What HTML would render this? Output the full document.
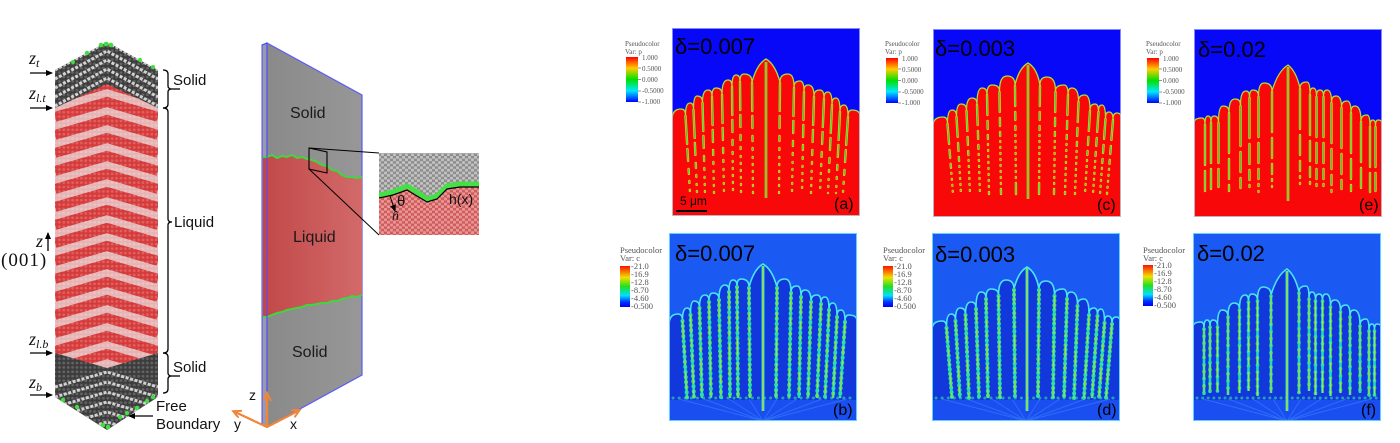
<!DOCTYPE html>
<html><head><meta charset="utf-8">
<style>
html,body{margin:0;padding:0;background:#fff;}
svg{display:block;}
text{font-family:"Liberation Sans",sans-serif;}
.ser{font-family:"Liberation Serif",serif;}
.lg{font-family:"Liberation Serif",serif;fill:#555;}
</style></head><body>
<svg width="1400" height="443" viewBox="0 0 1400 443" xmlns="http://www.w3.org/2000/svg">
<defs>
 <linearGradient id="cb" x1="0" y1="0" x2="0" y2="1">
  <stop offset="0" stop-color="#ff0000"/><stop offset="0.25" stop-color="#ffcc00"/><stop offset="0.5" stop-color="#00e000"/><stop offset="0.75" stop-color="#00e8ff"/><stop offset="1" stop-color="#0000ff"/>
 </linearGradient>
 <linearGradient id="cb2" x1="0" y1="0" x2="0" y2="1">
  <stop offset="0" stop-color="#ff1000"/><stop offset="0.28" stop-color="#f0e000"/><stop offset="0.5" stop-color="#20e020"/><stop offset="0.72" stop-color="#00e0ff"/><stop offset="0.88" stop-color="#0030ff"/><stop offset="1" stop-color="#0000f0"/>
 </linearGradient>
 <linearGradient id="redg" x1="0" y1="0" x2="1" y2="0">
  <stop offset="0" stop-color="#c24848"/><stop offset="1" stop-color="#d26a6a"/>
 </linearGradient>
 <linearGradient id="grayg" x1="0" y1="0" x2="1" y2="0">
  <stop offset="0" stop-color="#8a8a8a"/><stop offset="1" stop-color="#979797"/>
 </linearGradient>
 <pattern id="speck" width="4.4" height="4.4" patternUnits="userSpaceOnUse"><circle cx="2.2" cy="2.2" r="1.4" fill="#fff" opacity="0.2"/></pattern>
 <pattern id="atG" width="6" height="5.2" patternUnits="userSpaceOnUse"><rect width="6" height="5.2" fill="#8c8c8c"/><circle cx="1.5" cy="1.3" r="1.6" fill="#c2c2c2"/><circle cx="4.5" cy="3.9" r="1.6" fill="#c2c2c2"/></pattern>
 <pattern id="atR" width="6" height="5.2" patternUnits="userSpaceOnUse"><rect width="6" height="5.2" fill="#cf5a5a"/><circle cx="1.5" cy="1.3" r="1.6" fill="#e99696"/><circle cx="4.5" cy="3.9" r="1.6" fill="#e99696"/></pattern>
 <clipPath id="colClip"><polygon points="55,70 107,42 158,70 158,397 107,430 55,397"/></clipPath>
 <clipPath id="insClip"><rect x="379" y="153" width="100" height="82"/></clipPath>
 <marker id="ab" markerWidth="9" markerHeight="8" refX="6" refY="3" orient="auto" markerUnits="userSpaceOnUse"><path d="M0,0L7,3L0,6z" fill="#000"/></marker>
 <marker id="ao" markerWidth="10" markerHeight="10" refX="6" refY="4" orient="auto" markerUnits="userSpaceOnUse"><path d="M0,0L8,4L0,8" fill="none" stroke="#f0863a" stroke-width="2"/></marker>

 <path id="pA" d="M0,188L0,92Q0,81 9,81Q13.5,81 13.5,87Q13.5,75 18,75Q21.5,75 21.5,81Q21.5,68 25,68Q30.5,68 30.5,74Q30.5,62 36,62Q40,62 40,68Q40,60 44,60Q50,60 50,66Q50,52 56,52Q60,52 60,58Q60,47 64,47Q68,47 68,53Q68,46 72,46Q80,46 80,54Q85,36 94,31Q103,36 108,54Q108,46 116,46Q122,46 122,59Q122,53 128,53Q132,53 132,63Q132,57 136,57Q142,57 142,68Q142,62 148,62Q152,62 152,70Q152,64 156,64Q160,64 160,76Q160,70 164,70Q168,70 168,83Q168,77 172,77Q176,77 176,88Q176,82 180,82Q188,82 188,88L188,188Z"/>
 <path id="pC" d="M0,188L0,97Q0,88 10,88Q14.5,88 14.5,94Q14.5,81 19,81Q23.5,81 23.5,87Q23.5,75 28,75Q33.5,75 33.5,81Q33.5,69 39,69Q44,69 44,75Q44,59 49,59Q54,59 54,65Q54,56 59,56Q66.5,56 66.5,62Q66.5,47 74,47Q82,47 82,56Q86,39 95,34Q104,39 107,56Q107,48 114,48Q122.5,48 122.5,62Q122.5,56 131,56Q135,56 135,65Q135,59 139,59Q145.5,59 145.5,72Q145.5,66 152,66Q157,66 157,81Q157,75 162,75Q165.5,75 165.5,82Q165.5,76 169,76Q172.5,76 172.5,89Q172.5,83 176,83Q180,83 180,90Q180,84 184,84Q188,84 188,88L188,188Z"/>
 <path id="pE" d="M0,188L0,94Q0,89 8,89Q11,89 11,95Q11,87 14,87Q17,87 17,93Q17,87 20,87Q24.5,87 24.5,93Q24.5,77 29,77Q35,77 35,83Q35,70 41,70Q46.5,70 46.5,76Q46.5,62 52,62Q55.5,62 55.5,68Q55.5,61 59,61Q64.5,61 64.5,67Q64.5,54 70,54Q78,54 78,62Q84,42 94,36Q102,42 106,59Q106,53 113,53Q116,53 116,65Q116,59 119,59Q122.5,59 122.5,67Q122.5,61 126,61Q129.5,61 129.5,67Q129.5,61 133,61Q137.5,61 137.5,73Q137.5,67 142,67Q147.5,67 147.5,78Q147.5,72 153,72Q157,72 157,83Q157,77 161,77Q167,77 167,92Q167,86 173,86Q176,86 176,97Q176,91 179,91Q181.5,91 181.5,97Q181.5,91 184,91Q188,91 188,94L188,188Z"/>
 <path id="sA" d="M13.5,88L18,165M21.5,82L25,165M30.5,75L33,165M40,69L42,165M50,67L52,165M60,59L61,165M68,54L69,165M80,55L81,165M108,55L107,165M122,60L120,165M132,64L130,165M142,69L139,165M152,71L148,165M160,77L156,165M168,84L164,165M176,89L171,165"/>
 <path id="sC" d="M14.5,95L20,165M23.5,88L28,165M33.5,82L37,165M44,76L47,165M54,66L56,165M66.5,63L68,165M82,57L83,165M107,57L106,165M122.5,63L121,165M135,66L132,165M145.5,73L142,165M157,82L152,165M165.5,83L160,165M172.5,90L167,165M180,91L174,165"/>
 <path id="sE" d="M11,96V162M17,94V160M24.5,94V158M35,84V162M46.5,77V160M55.5,69V158M64.5,68V163M78,63V160M106,60V160M116,66V158M122.5,68V162M129.5,68V160M137.5,74V163M147.5,79V160M157,84V162M167,93V160M176,98V163M181.5,98V162"/>
 <path id="fan" d="M94,188L10,166M94,188L35,166M94,188L60,166M94,188L80,166M94,188L108,166M94,188L128,166M94,188L153,166M94,188L178,166"/>
</defs>

<!-- ================= LEFT: atom column ================= -->
<g clip-path="url(#colClip)">
 <rect x="50" y="40" width="115" height="395" fill="#e6b4b4"/>
 <g fill="none" stroke="#d63a3a" stroke-width="10">
  <polyline points="55,99 107,84 158,99"/><polyline points="55,117 107,102 158,117"/>
  <polyline points="55,135 107,120 158,135"/><polyline points="55,153 107,138 158,153"/>
  <polyline points="55,171 107,156 158,171"/><polyline points="55,189 107,174 158,189"/>
  <polyline points="55,207 107,192 158,207"/><polyline points="55,225 107,210 158,225"/>
  <polyline points="55,243 107,228 158,243"/><polyline points="55,261 107,246 158,261"/>
  <polyline points="55,279 107,264 158,279"/><polyline points="55,297 107,282 158,297"/>
  <polyline points="55,315 107,300 158,315"/><polyline points="55,333 107,318 158,333"/>
  <polyline points="55,351 107,336 158,351"/><polyline points="55,369 107,354 158,369"/>
 </g>
 <polygon points="55,40 158,40 158,108 107,84 55,108" fill="#3c3c3c"/>
 <g fill="none" stroke="#cfcfcf" stroke-width="3" stroke-dasharray="3 1.6">
  <polyline points="55,70 107,42 158,70"/><polyline points="55,79 107,51 158,79"/>
  <polyline points="55,88 107,60 158,88"/><polyline points="55,97 107,69 158,97"/>
  <polyline points="55,106 107,78 158,106"/>
 </g>
 <polygon points="55,353 107,368 158,353 158,440 55,440" fill="#3c3c3c"/>
 <g fill="none" stroke="#cfcfcf" stroke-width="3" stroke-dasharray="3 1.6">
  <polyline points="55,387 107,372 158,387"/><polyline points="55,397 107,382 158,397"/>
  <polyline points="55,407 107,392 158,407"/><polyline points="55,417 107,402 158,417"/>
  <polyline points="55,427 107,412 158,427"/><polyline points="55,437 107,422 158,437"/>
 </g>
 <rect x="50" y="40" width="115" height="395" fill="url(#speck)"/>
</g>
<g fill="#3ee03e">
 <circle cx="101" cy="45" r="2.3"/><circle cx="106" cy="44" r="2.3"/><circle cx="111" cy="45" r="2.3"/>
 <circle cx="87" cy="53" r="2.2"/><circle cx="73" cy="62" r="2"/><circle cx="140" cy="60" r="2"/><circle cx="153" cy="67" r="2"/>
 <circle cx="63" cy="400" r="2.2"/><circle cx="77" cy="407" r="2.2"/><circle cx="103" cy="425" r="2.3"/><circle cx="108" cy="427" r="2.3"/>
 <circle cx="120" cy="417" r="2.2"/><circle cx="127" cy="413" r="2.2"/><circle cx="137" cy="408" r="2.2"/><circle cx="147" cy="401" r="2.2"/><circle cx="153" cy="397" r="2.2"/>
</g>

<!-- left labels & arrows -->
<g stroke="#000" stroke-width="1.3" fill="none">
 <line x1="30" y1="73" x2="52" y2="73" marker-end="url(#ab)"/>
 <line x1="30" y1="108" x2="52" y2="108" marker-end="url(#ab)"/>
 <line x1="30" y1="353" x2="52" y2="353" marker-end="url(#ab)"/>
 <line x1="30" y1="395" x2="52" y2="395" marker-end="url(#ab)"/>
 <line x1="48" y1="251" x2="48" y2="233" marker-end="url(#ab)"/>
 <line x1="153" y1="416" x2="129" y2="416" marker-end="url(#ab)"/>
 <path d="M163,70Q168,70 168,74L168,86Q168,89 172,89Q168,89 168,92L168,104Q168,108 163,108"/>
 <line x1="172" y1="89" x2="180" y2="89"/>
 <path d="M163,108Q168,108 168,112L168,219Q168,222 172,222Q168,222 168,225L168,349Q168,353 163,353"/>
 <path d="M163,353Q168,353 168,357L168,373Q168,376 172,376Q168,376 168,379L168,389Q168,393 163,393"/>
 <line x1="172" y1="376" x2="180" y2="376"/>
</g>
<g fill="#111">
 <text x="29" y="64" font-size="18" class="ser" font-style="italic">z<tspan font-size="12" dy="3">t</tspan></text>
 <text x="29" y="99" font-size="18" class="ser" font-style="italic">z<tspan font-size="12" dy="3">l.t</tspan></text>
 <text x="36" y="247" font-size="18" class="ser" font-style="italic">z</text>
 <text x="29" y="345" font-size="18" class="ser" font-style="italic">z<tspan font-size="12" dy="3">l.b</tspan></text>
 <text x="29" y="388" font-size="18" class="ser" font-style="italic">z<tspan font-size="12" dy="3">b</tspan></text>
</g>
<text x="1" y="266" font-size="19" class="ser" letter-spacing="1" fill="#111">(001)</text>
<text x="173" y="85" font-size="15" fill="#111">Solid</text>
<text x="174" y="227" font-size="15" fill="#111">Liquid</text>
<text x="173" y="372" font-size="15" fill="#111">Solid</text>
<text x="156" y="411" font-size="15" fill="#111">Free</text>
<text x="156" y="429" font-size="15" fill="#111">Boundary</text>

<!-- ================= MIDDLE: slab ================= -->
<polygon points="262,45 267,43 267,427 262,425" fill="#9a9aa8" stroke="#4a4aff" stroke-width="1"/>
<polygon points="267,43 362,95 362,375 267,427" fill="url(#grayg)" stroke="#5a5aff" stroke-width="1.2"/>
<path d="M263,157L267,157 272,155 277,158 282,156 287,157 292,155 297,158 302,157 307,159 312,160 317,162 322,165 327,166 332,170 337,171 342,175 347,177 352,177 357,178 362,177L362,295 357,297 352,296 347,298 342,299 337,301 332,301 327,303 322,303 317,304 312,305 307,305 302,307 297,308 292,309 287,310 282,312 277,313 272,315 267,317 263,317Z" fill="url(#redg)"/>
<g fill="none" stroke="#3ed83e" stroke-width="2">
 <polyline points="263,157 267,157 272,155 277,158 282,156 287,157 292,155 297,158 302,157 307,159 312,160 317,162 322,165 327,166 332,170 337,171 342,175 347,177 352,177 357,178 362,177"/>
 <polyline points="362,295 357,297 352,296 347,298 342,299 337,301 332,301 327,303 322,303 317,304 312,305 307,305 302,307 297,308 292,309 287,310 282,312 277,313 272,315 267,317 263,317"/>
</g>
<polygon points="262,45 267,43 267,427 262,425" fill="none" stroke="#4a4aff" stroke-width="1"/>
<text x="290" y="118" font-size="16" fill="#1a1a1a">Solid</text>
<text x="293" y="242" font-size="16" fill="#1a1a1a">Liquid</text>
<text x="292" y="357" font-size="16" fill="#1a1a1a">Solid</text>
<polygon points="309,148 327,152 327,173 309,169" fill="none" stroke="#000" stroke-width="1.1"/>
<line x1="309" y1="148" x2="379" y2="153" stroke="#000" stroke-width="1"/>
<line x1="309" y1="169" x2="379" y2="235" stroke="#000" stroke-width="1"/>
<g clip-path="url(#insClip)">
 <rect x="379" y="153" width="100" height="82" fill="url(#atR)"/>
 <path d="M379,153H479V184L460,184 447,186 437,196 427,199 417,192 407,186 393,192 379,195Z" fill="url(#atG)"/>
 <polyline points="379,195 393,192 407,186 417,192 427,199 437,196 447,186 460,184 479,184" fill="none" stroke="#44e044" stroke-width="5"/>
 <polyline points="379,198 393,195 407,190 417,196 427,202 437,199 447,189 460,187 479,187" fill="none" stroke="#000" stroke-width="1.2"/>
</g>
<line x1="390" y1="196" x2="395" y2="211" stroke="#000" stroke-width="1" marker-end="url(#ab)"/>
<text x="397" y="206" font-size="15" fill="#111">θ</text>
<text x="392" y="220" font-size="14" class="ser" font-style="italic" fill="#111">n̂</text>
<text x="449" y="204" font-size="14" fill="#111">h(x)</text>
<g stroke="#f0863a" stroke-width="2.2" fill="none">
 <line x1="267" y1="427" x2="267" y2="395" marker-end="url(#ao)"/>
 <line x1="267" y1="427" x2="298" y2="411" marker-end="url(#ao)"/>
 <line x1="267" y1="427" x2="235" y2="412" marker-end="url(#ao)"/>
</g>
<text x="249" y="400" font-size="14" fill="#111">z</text>
<text x="234" y="429" font-size="14" fill="#111">y</text>
<text x="290" y="429" font-size="14" fill="#111">x</text>

<!-- ================= TOP ROW (p) ================= -->
<svg x="672" y="28" width="188" height="188" viewBox="0 0 188 188">
 <rect width="188" height="188" fill="#0808f8"/>
 <use href="#pA" fill="#f80808" stroke="#a8e038" stroke-width="1.3"/>
 <use href="#sA" fill="none" stroke="#f0d010" stroke-width="2.4" stroke-linecap="round" stroke-dasharray="28 5 12 8 5 7 2 7 1 6 1 6 1 6 1 6 1 6 1 6"/>
 <use href="#sA" fill="none" stroke="#30d050" stroke-width="1.1" stroke-linecap="round" stroke-dasharray="28 5 12 8 5 7 2 7 1 6 1 6 1 6 1 6 1 6 1 6"/>
 <path d="M94,34V170" stroke="#f0d010" stroke-width="2.6"/><path d="M94,34V170" stroke="#30d050" stroke-width="1.2"/>
 <line x1="4" y1="183" x2="35" y2="183" stroke="#000" stroke-width="2"/>
 <text x="8" y="177" font-size="12" fill="#000">5 μm</text>
 <text x="3" y="26" font-size="22" fill="#000">δ=0.007</text>
 <text x="162" y="181" font-size="16" fill="#000">(a)</text>
 <rect x="0.5" y="0.5" width="187" height="187" fill="none" stroke="#b8c0ff" stroke-width="1" opacity="0.7"/>
</svg>
<svg x="933" y="29" width="188" height="188" viewBox="0 0 188 188">
 <rect width="188" height="188" fill="#0808f8"/>
 <use href="#pC" fill="#f80808" stroke="#a8e038" stroke-width="1.3"/>
 <use href="#sC" fill="none" stroke="#f0d010" stroke-width="2.4" stroke-linecap="round" stroke-dasharray="20 6 8 6 4 5 1 5 1 5 1 5 1 5 1 5 1 5 1 5 1 5"/>
 <use href="#sC" fill="none" stroke="#30d050" stroke-width="1.1" stroke-linecap="round" stroke-dasharray="20 6 8 6 4 5 1 5 1 5 1 5 1 5 1 5 1 5 1 5 1 5"/>
 <path d="M95,36V170" stroke="#f0d010" stroke-width="2.6"/><path d="M95,36V170" stroke="#30d050" stroke-width="1.2"/>
 <text x="2" y="27" font-size="22" fill="#000">δ=0.003</text>
 <text x="164" y="181" font-size="16" fill="#000">(c)</text>
 <rect x="0.5" y="0.5" width="187" height="187" fill="none" stroke="#b8c0ff" stroke-width="1" opacity="0.7"/>
</svg>
<svg x="1194" y="29" width="188" height="188" viewBox="0 0 188 188">
 <rect width="188" height="188" fill="#0808f8"/>
 <use href="#pE" fill="#f80808" stroke="#a8e038" stroke-width="1.3"/>
 <use href="#sE" fill="none" stroke="#f0d010" stroke-width="2.4" stroke-linecap="round" stroke-dasharray="40 6 20 6 10 5 2 5 1 5 1 5"/>
 <use href="#sE" fill="none" stroke="#30d050" stroke-width="1.1" stroke-linecap="round" stroke-dasharray="40 6 20 6 10 5 2 5 1 5 1 5"/>
 <path d="M94,38V172" stroke="#f0d010" stroke-width="2.6"/><path d="M94,38V172" stroke="#30d050" stroke-width="1.2"/>
 <text x="4" y="28" font-size="22" fill="#000">δ=0.02</text>
 <text x="165" y="181" font-size="16" fill="#000">(e)</text>
 <rect x="0.5" y="0.5" width="187" height="187" fill="none" stroke="#b8c0ff" stroke-width="1" opacity="0.7"/>
</svg>

<!-- ================= BOTTOM ROW (c) ================= -->
<svg x="669" y="233" width="188" height="188" viewBox="0 0 188 188">
 <rect width="188" height="188" fill="#1b5af2"/>
 <use href="#pA" fill="#1238dc" stroke="#4ae6f0" stroke-width="1.6"/>
 <rect x="1" y="167" width="186" height="20" fill="#1a4ef0"/>
 <use href="#fan" stroke="#3a80fa" stroke-width="1" opacity="0.6"/>
 <use href="#sA" fill="none" stroke="#1ed8c8" stroke-width="2.6"/>
 <use href="#sA" fill="none" stroke="#30e0a0" stroke-width="4" stroke-linecap="round" stroke-dasharray="0.1 5"/>
 <use href="#sA" fill="none" stroke="#b4e028" stroke-width="1" stroke-dasharray="18 6 9 5 6 7"/>
 <path d="M4,165H184" stroke="#30e0a0" stroke-width="3" stroke-linecap="round" stroke-dasharray="0.1 6" opacity="0.6"/>
 <path d="M94,33V178" stroke="#1ed8c8" stroke-width="3"/><path d="M94,33V178" stroke="#c8e030" stroke-width="1.2"/>
 <text x="6" y="28" font-size="22" fill="#000">δ=0.007</text>
 <text x="164" y="182" font-size="16" fill="#000">(b)</text>
 <rect x="0.5" y="0.5" width="187" height="187" fill="none" stroke="#60d0ff" stroke-width="1"/>
</svg>
<svg x="932" y="233" width="188" height="188" viewBox="0 0 188 188">
 <rect width="188" height="188" fill="#1b5af2"/>
 <use href="#pC" fill="#1238dc" stroke="#4ae6f0" stroke-width="1.6"/>
 <rect x="1" y="167" width="186" height="20" fill="#1a4ef0"/>
 <use href="#fan" stroke="#3a80fa" stroke-width="1" opacity="0.6"/>
 <use href="#sC" fill="none" stroke="#1ed8c8" stroke-width="2.6"/>
 <use href="#sC" fill="none" stroke="#30e0a0" stroke-width="4" stroke-linecap="round" stroke-dasharray="0.1 4.5"/>
 <use href="#sC" fill="none" stroke="#b4e028" stroke-width="1" stroke-dasharray="14 6 8 5 5 7"/>
 <path d="M4,165H184" stroke="#30e0a0" stroke-width="3" stroke-linecap="round" stroke-dasharray="0.1 6" opacity="0.6"/>
 <path d="M95,35V178" stroke="#1ed8c8" stroke-width="3"/><path d="M95,35V178" stroke="#c8e030" stroke-width="1.2"/>
 <text x="3" y="29" font-size="22" fill="#000">δ=0.003</text>
 <text x="165" y="182" font-size="16" fill="#000">(d)</text>
 <rect x="0.5" y="0.5" width="187" height="187" fill="none" stroke="#60d0ff" stroke-width="1"/>
</svg>
<svg x="1193" y="233" width="188" height="188" viewBox="0 0 188 188">
 <rect width="188" height="188" fill="#1b5af2"/>
 <use href="#pE" fill="#1238dc" stroke="#4ae6f0" stroke-width="1.6"/>
 <rect x="1" y="167" width="186" height="20" fill="#1a4ef0"/>
 <use href="#fan" stroke="#3a80fa" stroke-width="1" opacity="0.6"/>
 <use href="#sE" fill="none" stroke="#1ed8c8" stroke-width="2.6"/>
 <use href="#sE" fill="none" stroke="#30e0a0" stroke-width="3.6" stroke-linecap="round" stroke-dasharray="0.1 7"/>
 <use href="#sE" fill="none" stroke="#b4e028" stroke-width="1" stroke-dasharray="30 6 14 5 8 7"/>
 <path d="M4,165H184" stroke="#30e0a0" stroke-width="3" stroke-linecap="round" stroke-dasharray="0.1 5.5" opacity="0.6"/>
 <path d="M94,38V178" stroke="#1ed8c8" stroke-width="3"/><path d="M94,38V178" stroke="#c8e030" stroke-width="1.2"/>
 <text x="4" y="28" font-size="22" fill="#000">δ=0.02</text>
 <text x="168" y="182" font-size="16" fill="#000">(f)</text>
 <rect x="0.5" y="0.5" width="187" height="187" fill="none" stroke="#60d0ff" stroke-width="1"/>
</svg>

<!-- ================= LEGENDS ================= -->
<g font-size="7">
 <text class="lg" x="625" y="46">Pseudocolor</text><text class="lg" x="625" y="54">Var: p</text>
 <rect x="626" y="57" width="12" height="45" fill="url(#cb)"/>
 <g stroke="#666" stroke-width="0.7"><line x1="638" y1="68" x2="641" y2="68"/><line x1="638" y1="79.5" x2="641" y2="79.5"/><line x1="638" y1="91" x2="641" y2="91"/><line x1="638" y1="102" x2="641" y2="102"/></g>
 <text class="lg" x="642" y="60">1.000</text><text class="lg" x="642" y="71">0.5000</text><text class="lg" x="642" y="82">0.000</text><text class="lg" x="642" y="93">-0.5000</text><text class="lg" x="642" y="104">-1.000</text>

 <text class="lg" x="885" y="46">Pseudocolor</text><text class="lg" x="885" y="54">Var: p</text>
 <rect x="886" y="58" width="12" height="45" fill="url(#cb)"/>
 <g stroke="#666" stroke-width="0.7"><line x1="898" y1="69" x2="901" y2="69"/><line x1="898" y1="80.5" x2="901" y2="80.5"/><line x1="898" y1="92" x2="901" y2="92"/><line x1="898" y1="103" x2="901" y2="103"/></g>
 <text class="lg" x="902" y="61">1.000</text><text class="lg" x="902" y="72">0.5000</text><text class="lg" x="902" y="83">0.000</text><text class="lg" x="902" y="94">-0.5000</text><text class="lg" x="902" y="105">-1.000</text>

 <text class="lg" x="1146" y="46">Pseudocolor</text><text class="lg" x="1146" y="54">Var: p</text>
 <rect x="1147" y="58" width="12" height="45" fill="url(#cb)"/>
 <g stroke="#666" stroke-width="0.7"><line x1="1159" y1="69" x2="1162" y2="69"/><line x1="1159" y1="80.5" x2="1162" y2="80.5"/><line x1="1159" y1="92" x2="1162" y2="92"/><line x1="1159" y1="103" x2="1162" y2="103"/></g>
 <text class="lg" x="1163" y="61">1.000</text><text class="lg" x="1163" y="72">0.5000</text><text class="lg" x="1163" y="83">0.000</text><text class="lg" x="1163" y="94">-0.5000</text><text class="lg" x="1163" y="105">-1.000</text>
</g>
<g font-size="8.5">
 <text class="lg" x="620" y="253">Pseudocolor</text><text class="lg" x="620" y="261">Var: c</text>
 <rect x="620" y="266" width="10" height="41" fill="url(#cb2)"/>
 <text class="lg" x="631" y="269">-21.0</text><text class="lg" x="631" y="277">-16.9</text><text class="lg" x="631" y="285">-12.8</text><text class="lg" x="631" y="293">-8.70</text><text class="lg" x="631" y="301">-4.60</text><text class="lg" x="631" y="309">-0.500</text>

 <text class="lg" x="883" y="253">Pseudocolor</text><text class="lg" x="883" y="261">Var: c</text>
 <rect x="883" y="266" width="10" height="41" fill="url(#cb2)"/>
 <text class="lg" x="894" y="269">-21.0</text><text class="lg" x="894" y="277">-16.9</text><text class="lg" x="894" y="285">-12.8</text><text class="lg" x="894" y="293">-8.70</text><text class="lg" x="894" y="301">-4.60</text><text class="lg" x="894" y="309">-0.500</text>

 <text class="lg" x="1143" y="253">Pseudocolor</text><text class="lg" x="1143" y="261">Var: c</text>
 <rect x="1143" y="265" width="10" height="41" fill="url(#cb2)"/>
 <text class="lg" x="1154" y="268">-21.0</text><text class="lg" x="1154" y="276">-16.9</text><text class="lg" x="1154" y="284">-12.8</text><text class="lg" x="1154" y="292">-8.70</text><text class="lg" x="1154" y="300">-4.60</text><text class="lg" x="1154" y="308">-0.500</text>
</g>
</svg>
</body></html>
